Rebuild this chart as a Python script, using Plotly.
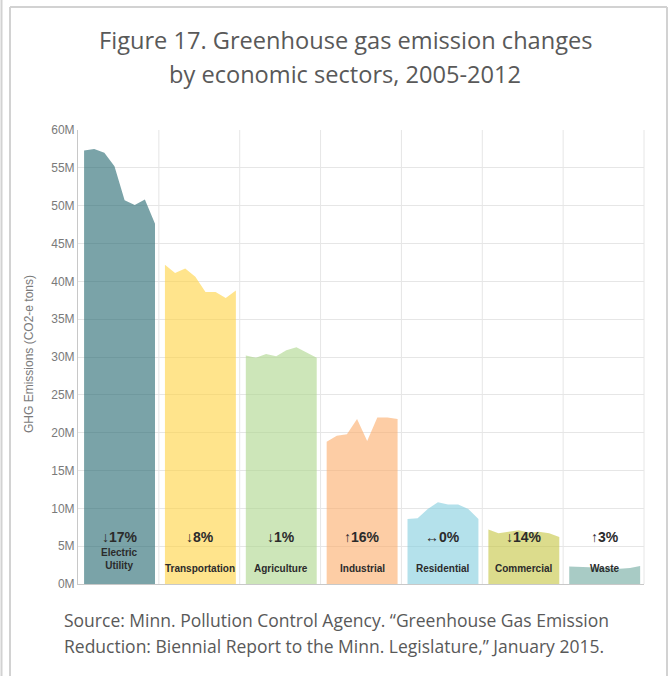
import plotly.graph_objects as go
from plotly.subplots import make_subplots

# Annual greenhouse gas emissions by sector, millions of tons CO2-e
years = [2005, 2006, 2007, 2008, 2009, 2010, 2011, 2012]
sectors = ["Electric<br>Utility", "Transportation", "Agriculture", "Industrial",
           "Residential", "Commercial", "Waste"]
electric_utility = [57.3, 57.5, 57.0, 55.2, 50.7, 50.1, 50.8, 47.6]
transportation = [42.2, 41.1, 41.7, 40.6, 38.6, 38.6, 37.8, 38.8]
agriculture = [30.2, 29.9, 30.4, 30.1, 30.9, 31.3, 30.6, 29.9]
industrial = [18.8, 19.6, 19.8, 21.8, 18.9, 22.0, 22.0, 21.8]
residential = [8.6, 8.7, 9.9, 10.8, 10.5, 10.5, 9.9, 8.6]
commercial = [7.2, 6.7, 6.9, 7.1, 6.8, 6.9, 6.7, 6.2]
waste = [2.3, 2.25, 2.2, 2.2, 2.1, 2.0, 2.1, 2.37]
change_labels = ["↓17%", "↓8%", "↓1%", "↑16%", "↔0%", "↓14%", "↑3%"]
tick_values = [0, 5, 10, 15, 20, 25, 30, 35, 40, 45, 50, 55, 60]
tick_labels = ["0M", "5M", "10M", "15M", "20M", "25M", "30M", "35M", "40M",
               "45M", "50M", "55M", "60M"]

series = [electric_utility, transportation, agriculture, industrial,
          residential, commercial, waste]
fills = ["rgba(33,102,110,0.6)", "rgba(255,210,63,0.6)", "rgba(172,213,138,0.6)",
         "rgba(252,172,105,0.6)", "rgba(130,205,222,0.6)", "rgba(197,197,63,0.6)",
         "rgba(110,168,158,0.6)"]

W, H = 672, 676
L, R, T, B = 78, 28, 130, 92
PW, PH = W - L - R, H - T - B


def px(x):
    return (x - L) / PW


def py(y):
    return (H - B - y) / PH


n = len(sectors)
fig = make_subplots(rows=1, cols=n, shared_yaxes=True, horizontal_spacing=0)

grid = "#e6e6e6"
axis_col = "#c8c8c8"
label_font = "Liberation Sans, Arial"
for i, (vals, color) in enumerate(zip(series, fills)):
    col = i + 1
    fig.add_trace(go.Scatter(
        x=years, y=[v * 1e6 for v in vals], mode="lines",
        line=dict(width=0, color=color), fill="tozeroy", fillcolor=color,
        hoverinfo="skip", showlegend=False), row=1, col=col)
    fig.update_xaxes(range=[2004.4, 2012.38], showgrid=False, zeroline=False,
                     showticklabels=False, showline=True, linecolor=axis_col,
                     linewidth=1, ticks="", row=1, col=col)
    fig.update_yaxes(range=[0, 60e6], tickvals=[v * 1e6 for v in tick_values],
                     ticktext=tick_labels, showgrid=True, gridcolor=grid,
                     gridwidth=1, zeroline=False, ticks="", row=1, col=col)
    xref = "x" if col == 1 else f"x{col}"
    yref = "y" if col == 1 else f"y{col}"
    mid = (years[0] + years[-1]) / 2
    fig.add_annotation(x=mid, y=6.2e6, xref=xref, yref=yref, text=f"<b>{change_labels[i]}</b>",
                       showarrow=False, font=dict(family=label_font, size=14, color="#2b2b2b"))
    name_y = 3.3e6 if "<br>" in sectors[i] else 2.1e6
    fig.add_annotation(x=mid, y=name_y, xref=xref, yref=yref, text=f"<b>{sectors[i]}</b>",
                       showarrow=False, font=dict(family=label_font, size=10, color="#2b2b2b"))

fig.update_yaxes(showline=True, linecolor=axis_col, linewidth=1,
                 tickfont=dict(family=label_font, size=12, color="#7a7a7a"),
                 row=1, col=1)

# Vertical separators between sector panels
shapes = []
for k in range(1, n + 1):
    shapes.append(dict(type="line", xref="paper", yref="paper", x0=k / n, x1=k / n,
                       y0=0, y1=1, line=dict(color=grid, width=1), layer="below"))

# Page frame lines
frame = "#d2d2d2"
shapes.append(dict(type="line", xref="paper", yref="paper", x0=px(1.5), x1=px(1.5),
                   y0=py(0), y1=py(H), line=dict(color=frame, width=2)))
shapes.append(dict(type="line", xref="paper", yref="paper", x0=px(10), x1=px(10),
                   y0=py(7), y1=py(H), line=dict(color=frame, width=2)))
shapes.append(dict(type="line", xref="paper", yref="paper", x0=px(10), x1=px(667),
                   y0=py(7), y1=py(7), line=dict(color=frame, width=2)))
shapes.append(dict(type="line", xref="paper", yref="paper", x0=px(667), x1=px(667),
                   y0=py(7), y1=py(H), line=dict(color=frame, width=2)))

text_font = dict(family="Open Sans, sans-serif", color="#595959")
annotations = [
    dict(text="Figure 17. Greenhouse gas emission changes", x=px(346), y=py(40),
         font=dict(size=23.6, **text_font)),
    dict(text="by economic sectors, 2005-2012", x=px(345), y=py(74),
         font=dict(size=23.6, **text_font)),
    dict(text="Source: Minn. Pollution Control Agency. \u201cGreenhouse Gas Emission",
         x=px(62), y=py(620), xanchor="left", font=dict(size=17.5, **text_font)),
    dict(text="Reduction: Biennial Report to the Minn. Legislature,\u201d January 2015.",
         x=px(62), y=py(646), xanchor="left", font=dict(size=17.5, **text_font)),
    dict(text="GHG Emissions (CO2-e tons)", x=px(29), y=py(354), textangle=-90,
         font=dict(family=label_font, size=12, color="#7a7a7a")),
]
for a in annotations:
    a.update(xref="paper", yref="paper", showarrow=False)
    a.setdefault("xanchor", "center")
    a.setdefault("yanchor", "middle")
    fig.add_annotation(**a)

fig.update_layout(width=W, height=H, margin=dict(l=L, r=R, t=T, b=B),
                  paper_bgcolor="white", plot_bgcolor="white", shapes=shapes,
                  showlegend=False)

fig.write_html("out.html")
